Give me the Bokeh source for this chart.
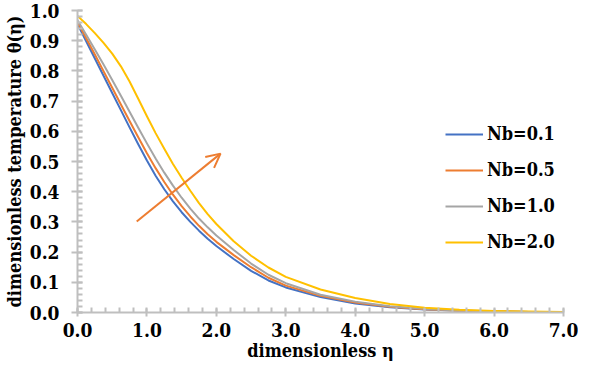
from bokeh.plotting import figure
from bokeh.models import (Range1d, FixedTicker, NumeralTickFormatter, Legend, LegendItem,
                          Arrow, OpenHead)
from bokeh.embed import file_html
from bokeh.resources import INLINE
import numpy as np

# ---- data ----
eta = [0.0, 0.125, 0.25, 0.375, 0.5, 0.625, 0.75, 0.875, 1.0, 1.125, 1.25, 1.375,
       1.5, 1.625, 1.75, 1.875, 2.0, 2.25, 2.5, 2.75, 3.0, 3.5, 4.0, 4.5, 5.0,
       5.5, 6.0, 6.5, 7.0]
nb01 = [0.955, 0.898, 0.841, 0.784, 0.727, 0.670, 0.613, 0.557, 0.503, 0.453, 0.408, 0.368,
        0.332, 0.300, 0.271, 0.244, 0.220, 0.177, 0.138, 0.106, 0.083, 0.051, 0.030, 0.017, 0.010,
        0.006, 0.003, 0.002, 0.001]
nb05 = [0.962, 0.908, 0.854, 0.799, 0.744, 0.689, 0.634, 0.580, 0.527, 0.478, 0.432, 0.390,
        0.352, 0.318, 0.287, 0.259, 0.234, 0.190, 0.150, 0.115, 0.089, 0.055, 0.033, 0.019, 0.011,
        0.006, 0.004, 0.002, 0.001]
nb10 = [0.968, 0.920, 0.871, 0.821, 0.770, 0.718, 0.665, 0.612, 0.560, 0.510, 0.463, 0.420,
        0.380, 0.344, 0.311, 0.282, 0.255, 0.207, 0.162, 0.125, 0.097, 0.059, 0.036, 0.021, 0.012,
        0.007, 0.004, 0.002, 0.001]
nb20 = [0.982, 0.955, 0.925, 0.893, 0.857, 0.815, 0.765, 0.708, 0.650, 0.594, 0.542, 0.492,
        0.446, 0.403, 0.362, 0.326, 0.293, 0.236, 0.188, 0.149, 0.118, 0.076, 0.048, 0.028, 0.016,
        0.009, 0.005, 0.003, 0.002]
series_labels = ["Nb=0.1", "Nb=0.5", "Nb=1.0", "Nb=2.0"]
series_colors = ["#4472C4", "#ED7D31", "#A5A5A5", "#FFC000"]

x_ticks = [0, 1, 2, 3, 4, 5, 6, 7]
y_ticks = [0.0, 0.1, 0.2, 0.3, 0.4, 0.5, 0.6, 0.7, 0.8, 0.9, 1.0]

arrow_start = (0.853, 0.301)
arrow_end = (2.06, 0.526)

AXC = "#BFBFBF"
FONT = "DejaVu Serif Condensed"

p = figure(width=578, height=363, output_backend="svg", toolbar_location=None,
           x_range=Range1d(0, 7), y_range=Range1d(0, 1),
           min_border_left=65, min_border_right=15, min_border_top=10, min_border_bottom=50)
p.outline_line_color = None
p.xgrid.visible = False
p.ygrid.visible = False

renderers = []
for ys, c in zip([nb01, nb05, nb10, nb20], series_colors):
    r = p.line(eta, ys, line_color=c, line_width=2, line_join="round")
    renderers.append(r)

p.add_layout(Arrow(end=OpenHead(size=14, line_color="#ED7D31", line_width=2),
                   x_start=arrow_start[0], y_start=arrow_start[1],
                   x_end=arrow_end[0], y_end=arrow_end[1],
                   line_color="#ED7D31", line_width=2))

# axes
p.xaxis.ticker = FixedTicker(ticks=x_ticks, minor_ticks=list(np.round(np.arange(0, 7.001, 0.2), 3)))
p.yaxis.ticker = FixedTicker(ticks=y_ticks, minor_ticks=list(np.round(np.arange(0, 1.0001, 0.02), 3)))
p.xaxis.formatter = NumeralTickFormatter(format="0.0")
p.yaxis.formatter = NumeralTickFormatter(format="0.0")

for ax in (p.xaxis[0], p.yaxis[0]):
    ax.axis_line_color = AXC
    ax.axis_line_width = 2
    ax.major_tick_line_color = AXC
    ax.minor_tick_line_color = AXC
    ax.major_tick_line_width = 2
    ax.minor_tick_line_width = 2
    ax.major_label_text_font = FONT
    ax.major_label_text_font_style = "bold"
    ax.major_label_text_font_size = "19px"
    ax.major_label_text_color = "black"
    ax.axis_label_text_font = FONT
    ax.axis_label_text_font_style = "bold"
    ax.axis_label_text_font_size = "18px"
    ax.axis_label_text_color = "black"

p.xaxis.major_tick_in = 4
p.xaxis.major_tick_out = 4
p.xaxis.minor_tick_in = 5
p.xaxis.minor_tick_out = 0
p.xaxis.major_label_standoff = 6
p.xaxis.axis_label = "dimensionless η"
p.xaxis.axis_label_standoff = 0

p.yaxis.major_tick_in = 5
p.yaxis.major_tick_out = 6
p.yaxis.minor_tick_in = 5
p.yaxis.minor_tick_out = 0
p.yaxis.major_label_standoff = 12
p.yaxis.axis_label = "dimensionless temperature θ(η)"
p.yaxis.axis_label_standoff = 2

legend = Legend(items=[LegendItem(label=l, renderers=[r]) for l, r in zip(series_labels, renderers)],
                location=(368, 60), orientation="vertical",
                glyph_width=38, glyph_height=20, label_height=20, spacing=15,
                label_standoff=4, padding=0, margin=0,
                border_line_color=None, background_fill_alpha=0,
                label_text_font=FONT, label_text_font_style="bold",
                label_text_font_size="18px", label_text_color="black")
p.add_layout(legend, "center")

open("out.html", "w").write(file_html(p, INLINE))
